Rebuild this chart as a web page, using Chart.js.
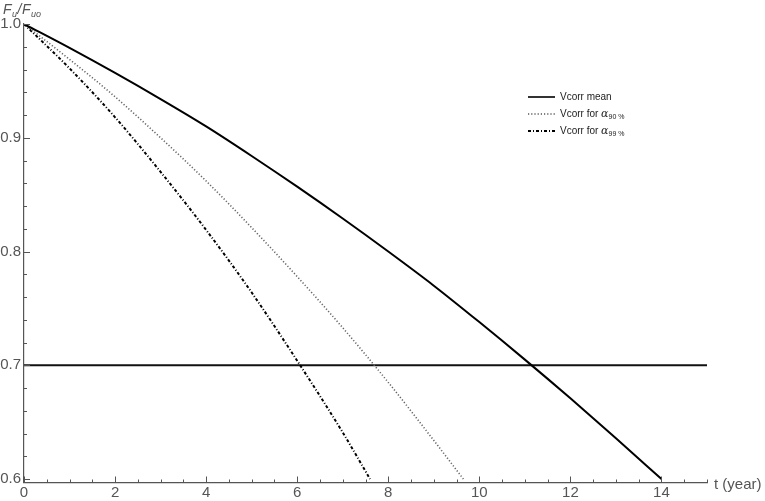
<!DOCTYPE html>
<html>
<head>
<meta charset="utf-8">
<script src="https://cdn.jsdelivr.net/npm/chart.js@4.4.1/dist/chart.umd.min.js"></script>
<style>
  html, body { margin: 0; padding: 0; background: #fff; }
</style>
</head>
<body>
<canvas id="plot" width="765" height="501"></canvas>
<script>
// years
const tMean = [0, 1, 2, 3, 4, 5, 6, 7, 8, 9, 10, 11, 12, 13, 14];
const vMean = [1.0, 0.979, 0.957, 0.934, 0.91, 0.884, 0.857, 0.829, 0.8, 0.77, 0.738, 0.705, 0.671, 0.636, 0.6];

const t90 = [0, 1, 2, 3, 4, 5, 6, 7, 8, 9, 9.65];
const v90 = [1.0, 0.969, 0.936, 0.9, 0.862, 0.821, 0.778, 0.733, 0.685, 0.634, 0.6];

const t99 = [0, 1, 2, 3, 4, 5, 6, 7, 7.6];
const v99 = [1.0, 0.961, 0.918, 0.87, 0.819, 0.764, 0.704, 0.641, 0.6];

const tLimit = [0, 15];
const vLimit = [0.7, 0.7];

const xTicks = [0, 2, 4, 6, 8, 10, 12, 14];
const yTicks = [0.6, 0.7, 0.8, 0.9, 1.0];

const pts = (xs, ys) => xs.map((x, i) => ({ x: x, y: ys[i] }));

const grey = "#555";
const font = { family: "'Liberation Sans', Arial, sans-serif", size: 15 };

// Mathematica-like decorations: inward ticks, axis titles, legend
const decorations = {
  id: "decorations",
  afterDraw(chart) {
    const c = chart.ctx;
    const xs = chart.scales.x;
    const ys = chart.scales.y;
    const x0 = xs.getPixelForValue(0);
    const y0 = ys.bottom;

    c.save();
    c.strokeStyle = grey;
    c.lineWidth = 1;
    // x ticks every 0.5, major at even years
    for (let v = 0; v <= 15.001; v += 0.5) {
      const px = Math.round(xs.getPixelForValue(v)) + 0.5;
      const len = v % 2 === 0 ? 6 : 3;
      c.beginPath();
      c.moveTo(px, y0);
      c.lineTo(px, y0 - len);
      c.stroke();
    }
    // y ticks every 0.02, major every 0.1
    for (let k = 0; k <= 20; k++) {
      const v = 0.6 + k * 0.02;
      const py = Math.round(ys.getPixelForValue(v)) + 0.5;
      const len = k % 5 === 0 ? 6 : 3;
      c.beginPath();
      c.moveTo(x0, py);
      c.lineTo(x0 + len, py);
      c.stroke();
    }

    // axis titles
    c.fillStyle = grey;
    c.textBaseline = "alphabetic";
    c.textAlign = "left";
    let x = 3;
    const big = "italic 14px 'Liberation Sans', Arial, sans-serif";
    const small = "italic 9px 'Liberation Sans', Arial, sans-serif";
    const parts = [["F", big, 0], ["u", small, 3], ["/", big, 0], ["F", big, 0], ["uo", small, 3]];
    for (const [s, f, dy] of parts) {
      c.font = f;
      c.fillText(s, x, 14 + dy);
      x += c.measureText(s).width + 0.5;
    }
    c.font = "15px 'Liberation Sans', Arial, sans-serif";
    c.fillText("t (year)", 714, y0 + 6);

    // legend
    const lx = 528, lw = 27;
    const rows = [
      { y: 97, dash: [], color: "#000", w: 1.6, label: "Vcorr mean", sub: null },
      { y: 114, dash: [1.2, 2], color: "#555", w: 1.4, label: "Vcorr for ", sub: "90 %" },
      { y: 131, dash: [3, 2, 1, 2], color: "#000", w: 1.8, label: "Vcorr for ", sub: "99 %" }
    ];
    for (const r of rows) {
      c.strokeStyle = r.color;
      c.lineWidth = r.w;
      c.setLineDash(r.dash);
      c.beginPath();
      c.moveTo(lx, r.y);
      c.lineTo(lx + lw, r.y);
      c.stroke();
      c.setLineDash([]);
      c.fillStyle = "#222";
      c.font = "10px 'Liberation Sans', Arial, sans-serif";
      c.textBaseline = "middle";
      c.fillText(r.label, lx + lw + 5, r.y);
      if (r.sub) {
        let tx = lx + lw + 5 + c.measureText(r.label).width;
        c.font = "italic 11px 'DejaVu Serif', serif";
        c.fillText("\u03b1", tx, r.y);
        tx += c.measureText("\u03b1").width;
        c.font = "7px 'Liberation Sans', Arial, sans-serif";
        c.fillText(r.sub, tx, r.y + 3);
      }
    }
    c.restore();
  }
};

new Chart(document.getElementById("plot"), {
  type: "line",
  data: {
    datasets: [
      {
        label: "Vcorr mean",
        data: pts(tMean, vMean),
        borderColor: "#000",
        borderWidth: 2,
        cubicInterpolationMode: "monotone",
        pointRadius: 0
      },
      {
        label: "Vcorr for a90%",
        data: pts(t90, v90),
        borderColor: "#666",
        borderWidth: 1.6,
        borderDash: [1.2, 2],
        cubicInterpolationMode: "monotone",
        pointRadius: 0
      },
      {
        label: "Vcorr for a99%",
        data: pts(t99, v99),
        borderColor: "#000",
        borderWidth: 2,
        borderDash: [3, 2, 1, 2],
        cubicInterpolationMode: "monotone",
        pointRadius: 0
      },
      {
        label: "limit",
        data: pts(tLimit, vLimit),
        borderColor: "#111",
        borderWidth: 2,
        pointRadius: 0
      }
    ]
  },
  options: {
    responsive: false,
    animation: false,
    layout: { padding: { top: 24, right: 58, left: 0, bottom: 0 } },
    plugins: {
      legend: { display: false },
      tooltip: { enabled: false }
    },
    scales: {
      x: {
        type: "linear",
        min: 0,
        max: 15,
        afterFit: s => { s.height = 18.5; },
        afterBuildTicks: s => { s.ticks = xTicks.map(v => ({ value: v })); },
        grid: { display: false, drawTicks: false },
        border: { display: true, color: grey, width: 1.2 },
        ticks: { color: grey, font: font, padding: 1, maxRotation: 0, autoSkip: false }
      },
      y: {
        type: "linear",
        min: 0.597,
        max: 1.0,
        afterFit: s => { s.width = 24; },
        afterBuildTicks: s => { s.ticks = yTicks.map(v => ({ value: v })); },
        grid: { display: false, drawTicks: false },
        border: { display: true, color: grey, width: 1.2 },
        ticks: { color: grey, font: font, padding: 3, callback: v => v.toFixed(1) }
      }
    }
  },
  plugins: [decorations]
});
</script>
</body>
</html>
